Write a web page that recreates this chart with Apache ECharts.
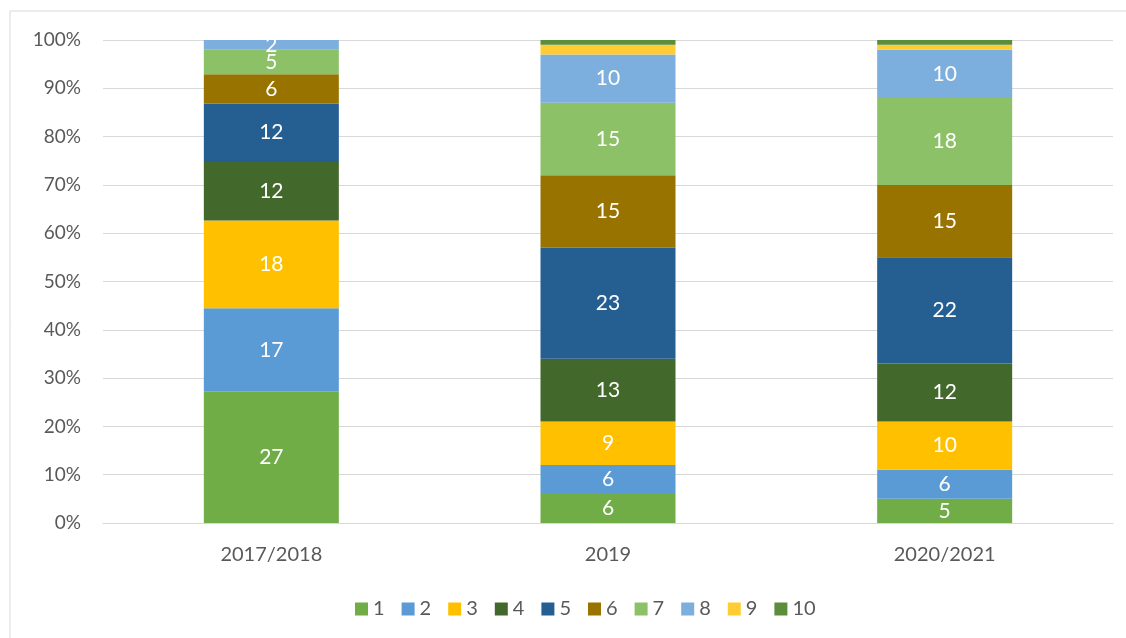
<!DOCTYPE html>
<html>
<head>
<meta charset="utf-8">
<script src="https://cdn.jsdelivr.net/npm/echarts@6/dist/echarts.min.js"></script>
<style>
  html, body { margin: 0; padding: 0; background: #fff; }
  #chart { width: 1126px; height: 638px; }
</style>
</head>
<body>
<div id="chart"></div>
<script>
// categories and raw counts per series (stacked to 100%)
var categories = ['2017/2018', '2019', '2020/2021']
var seriesNames = ['1', '2', '3', '4', '5', '6', '7', '8', '9', '10']
var s1 = [27, 6, 5]
var s2 = [17, 6, 6]
var s3 = [18, 9, 10]
var s4 = [12, 13, 12]
var s5 = [12, 23, 22]
var s6 = [6, 15, 15]
var s7 = [5, 15, 18]
var s8 = [2, 10, 10]
var s9 = [0, 2, 1]
var s10 = [0, 1, 1]
var yTicks = [0, 10, 20, 30, 40, 50, 60, 70, 80, 90, 100]

var colors = ['#70AD47', '#5B9BD5', '#FFC000', '#43682B', '#255E91',
  '#997300', '#8CC168', '#7CAFDD', '#FFCD33', '#5B8D3A']
var showLabel = [true, true, true, true, true, true, true, true, false, false]

var all = [s1, s2, s3, s4, s5, s6, s7, s8, s9, s10]
var totals = categories.map(function(c, i) {
  var t = 0
  for (var k = 0; k < all.length; k++) t += all[k][i]
  return t
})

var font = 'Lato, "Open Sans", sans-serif'
var series = all.map(function(arr, k) {
  return {
    name: seriesNames[k],
    type: 'bar',
    stack: 'total',
    barWidth: 135,
    itemStyle: { color: colors[k] },
    label: {
      show: showLabel[k],
      position: 'inside',
      color: '#ffffff',
      fontSize: 21,
      fontFamily: font,
      formatter: function(p) { return arr[p.dataIndex] > 0 ? String(arr[p.dataIndex]) : '' }
    },
    data: arr.map(function(v, i) { return v / totals[i] * 100 })
  }
})

var myChart = echarts.init(document.getElementById('chart'))
var option = {
  animation: false,
  color: colors,
  graphic: [
    { type: 'line', shape: { x1: 10, y1: 11, x2: 1126, y2: 11 }, style: { stroke: '#d9d9d9', lineWidth: 1 } },
    { type: 'line', shape: { x1: 10, y1: 11, x2: 10, y2: 638 }, style: { stroke: '#d9d9d9', lineWidth: 1 } }
  ],
  legend: {
    bottom: 14,
    left: 350,
    itemWidth: 13,
    itemHeight: 13,
    itemGap: 17,
    icon: 'rect',
    textStyle: { color: '#595959', fontSize: 20, fontFamily: font },
    data: seriesNames
  },
  grid: { left: 103, right: 13, top: 40, bottom: 115 },
  xAxis: {
    type: 'category',
    data: categories,
    axisLine: { lineStyle: { color: '#d9d9d9' } },
    axisTick: { show: false },
    axisLabel: { color: '#595959', fontSize: 20, fontFamily: font, margin: 22 }
  },
  yAxis: {
    type: 'value',
    min: yTicks[0],
    max: yTicks[yTicks.length - 1],
    interval: 10,
    axisLine: { show: false },
    axisTick: { show: false },
    splitLine: { lineStyle: { color: '#d9d9d9' } },
    axisLabel: { color: '#595959', fontSize: 19, fontFamily: font, margin: 22, formatter: '{value}%' }
  },
  series: series
}
myChart.setOption(option)
</script>
</body>
</html>
